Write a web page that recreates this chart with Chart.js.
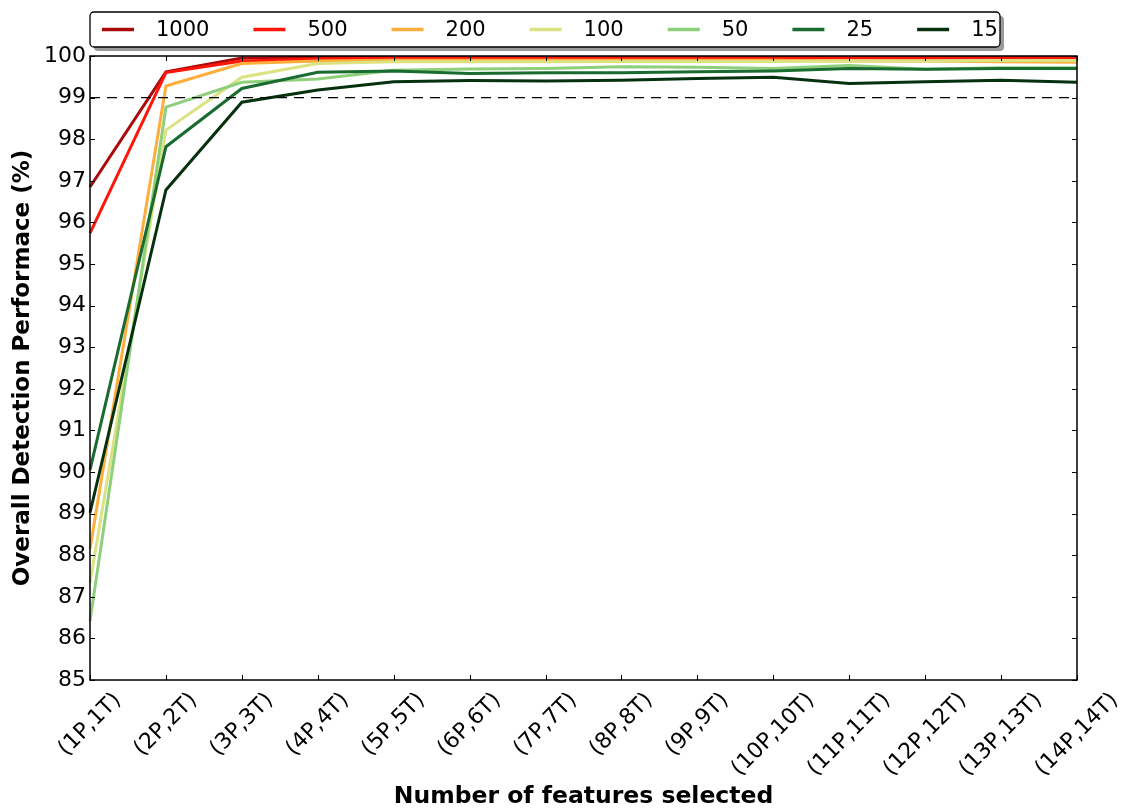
<!DOCTYPE html>
<html>
<head>
<meta charset="utf-8">
<script src="https://cdn.jsdelivr.net/npm/chart.js@4.4.1/dist/chart.umd.min.js"></script>
<style>
  html, body { margin: 0; padding: 0; background: #fff; }
  #wrap { width: 1125px; height: 808px; }
</style>
</head>
<body>
<div id="wrap"><canvas id="myChart" width="1125" height="808"></canvas></div>
<script>
const labels = ['(1P,1T)', '(2P,2T)', '(3P,3T)', '(4P,4T)', '(5P,5T)', '(6P,6T)', '(7P,7T)',
                '(8P,8T)', '(9P,9T)', '(10P,10T)', '(11P,11T)', '(12P,12T)', '(13P,13T)', '(14P,14T)'];

const s1000 = [96.85, 99.62, 99.95, 99.97, 99.98, 99.98, 99.98, 99.98, 99.98, 99.98, 99.98, 99.98, 99.98, 99.98];
const s500  = [95.74, 99.60, 99.88, 99.93, 99.95, 99.95, 99.95, 99.96, 99.96, 99.95, 99.96, 99.95, 99.96, 99.96];
const s200  = [88.15, 99.28, 99.82, 99.88, 99.90, 99.90, 99.90, 99.90, 99.90, 99.90, 99.88, 99.88, 99.86, 99.85];
const s100  = [87.33, 98.22, 99.49, 99.82, 99.86, 99.86, 99.86, 99.87, 99.87, 99.87, 99.88, 99.88, 99.89, 99.89];
const s50   = [86.42, 98.77, 99.37, 99.45, 99.66, 99.69, 99.70, 99.74, 99.73, 99.70, 99.77, 99.68, 99.72, 99.72];
const s25   = [90.05, 97.82, 99.22, 99.61, 99.64, 99.58, 99.60, 99.60, 99.62, 99.64, 99.70, 99.68, 99.70, 99.70];
const s15   = [89.02, 96.78, 98.89, 99.18, 99.38, 99.41, 99.40, 99.42, 99.46, 99.49, 99.34, 99.38, 99.42, 99.37];

const seriesNames = ['1000', '500', '200', '100', '50', '25', '15'];
const seriesData = [s1000, s500, s200, s100, s50, s25, s15];
const seriesColors = ['#aa0a0a', '#ff160a', '#fdae3c', '#dae282', '#8ecf7c', '#196b2f', '#06310f'];
const refLevel = 99;

const FONT = 'DejaVu Sans';

const datasets = seriesData.map((d, i) => ({
    label: seriesNames[i],
    data: d,
    borderColor: seriesColors[i],
    backgroundColor: seriesColors[i],
    borderWidth: 3,
    pointRadius: 0,
    tension: 0,
    fill: false,
    order: seriesData.length - i + 1
}));
datasets.push({
    label: '_ref',
    data: labels.map(() => refLevel),
    borderColor: '#000',
    borderWidth: 1.3,
    borderDash: [10, 7],
    pointRadius: 0,
    fill: false,
    order: 0
});

// frame, inward ticks and rotated category labels
const axesDecor = {
    id: 'axesDecor',
    afterDatasetsDraw(chart) {
        const { ctx, chartArea: a, scales: { x, y } } = chart;
        ctx.save();
        ctx.strokeStyle = '#000';
        ctx.lineWidth = 1.5;
        ctx.strokeRect(a.left, a.top, a.right - a.left, a.bottom - a.top);

        ctx.lineWidth = 1;
        const tl = 5;
        ctx.beginPath();
        x.ticks.forEach((t, i) => {
            const px = Math.round(x.getPixelForTick(i)) + 0.5;
            ctx.moveTo(px, a.bottom); ctx.lineTo(px, a.bottom - tl);
            ctx.moveTo(px, a.top); ctx.lineTo(px, a.top + tl);
        });
        y.ticks.forEach((t, i) => {
            const py = Math.round(y.getPixelForTick(i)) + 0.5;
            ctx.moveTo(a.left, py); ctx.lineTo(a.left + tl, py);
            ctx.moveTo(a.right, py); ctx.lineTo(a.right - tl, py);
        });
        ctx.stroke();

        ctx.fillStyle = '#000';
        ctx.font = '22px "' + FONT + '"';
        ctx.textAlign = 'center';
        ctx.textBaseline = 'middle';
        const s = Math.SQRT1_2;
        x.ticks.forEach((t, i) => {
            const text = labels[i];
            const w = ctx.measureText(text).width;
            const h = (w + 22) * s;
            ctx.save();
            ctx.translate(x.getPixelForTick(i), a.bottom + 9 + h / 2);
            ctx.rotate(-Math.PI / 4);
            ctx.fillText(text, 0, 0);
            ctx.restore();
        });
        ctx.restore();
    },
    afterDraw(chart) {
        // legend box with drop shadow
        const { ctx } = chart;
        const bx = 90, by = 12, bw = 910, bh = 35, r = 4;
        ctx.save();
        ctx.fillStyle = '#9a9a9a';
        ctx.beginPath();
        ctx.roundRect(bx + 4, by + 4, bw, bh, r);
        ctx.fill();
        ctx.fillStyle = '#fff';
        ctx.strokeStyle = '#000';
        ctx.lineWidth = 1.3;
        ctx.beginPath();
        ctx.roundRect(bx, by, bw, bh, r);
        ctx.fill();
        ctx.stroke();

        ctx.font = '21px "' + FONT + '"';
        ctx.textBaseline = 'middle';
        ctx.textAlign = 'left';
        const cy = by + bh / 2;
        let lx = 102;
        chart.data.datasets.forEach(ds => {
            if (ds.label.startsWith('_')) return;
            ctx.strokeStyle = ds.borderColor;
            ctx.lineWidth = 3.5;
            ctx.beginPath();
            ctx.moveTo(lx, cy); ctx.lineTo(lx + 32, cy);
            ctx.stroke();
            ctx.fillStyle = '#000';
            const tx = lx + 54;
            ctx.fillText(ds.label, tx, cy + 1);
            lx = tx + ctx.measureText(ds.label).width + 44;
        });
        ctx.restore();
    }
};

new Chart(document.getElementById('myChart'), {
    type: 'line',
    data: { labels: labels, datasets: datasets },
    options: {
        responsive: false,
        animation: false,
        layout: { padding: { top: 56, right: 48, left: 0, bottom: 0 } },
        plugins: {
            legend: { display: false },
            tooltip: { enabled: false }
        },
        scales: {
            x: {
                grid: { display: false },
                border: { display: false },
                ticks: { display: false },
                afterFit: scale => { scale.height = 128; },
                title: {
                    display: true,
                    text: 'Number of features selected',
                    color: '#000',
                    font: { family: FONT, size: 23.5, weight: 'bold' },
                    padding: { top: 0, bottom: -3 }
                }
            },
            y: {
                min: 85,
                max: 100,
                grid: { display: false },
                border: { display: false },
                ticks: {
                    stepSize: 1,
                    color: '#000',
                    padding: -4,
                    font: { family: FONT, size: 22 }
                },
                afterFit: scale => { scale.width = 90; },
                title: {
                    display: true,
                    text: 'Overall Detection Performace (%)',
                    color: '#000',
                    font: { family: FONT, size: 23, weight: 'bold' },
                    padding: { top: 9, bottom: 0 }
                }
            }
        }
    },
    plugins: [axesDecor]
});
</script>
</body>
</html>
